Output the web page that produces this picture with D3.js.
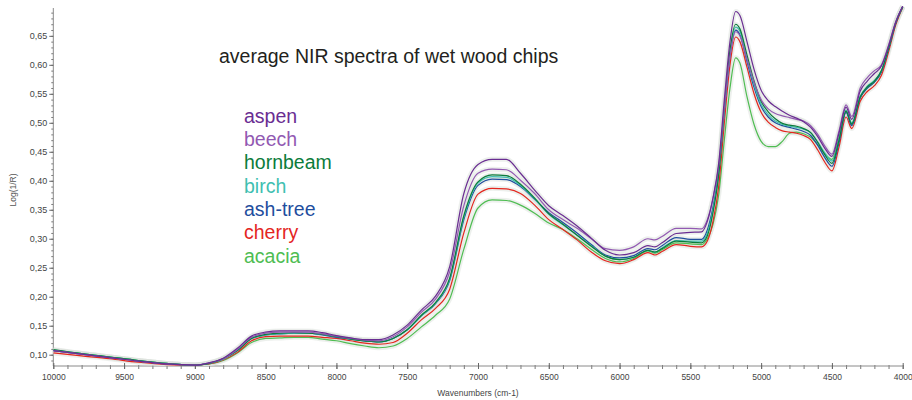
<!DOCTYPE html>
<html>
<head>
<meta charset="utf-8">
<script src="https://cdn.jsdelivr.net/npm/d3@7"></script>
<style>
  body { margin: 0; background: #fff; }
  svg { display: block; font-family: "Liberation Sans", Arial, sans-serif; }
</style>
</head>
<body>
<svg id="chart" width="912" height="400"></svg>
<script>
// wavenumbers (cm-1)
const wavenumbers = [
  10000, 9800, 9600, 9400, 9200, 9000, 8900, 8800, 8700, 8600,
  8500, 8400, 8300, 8200, 8100, 8000, 7900, 7800, 7700, 7600,
  7500, 7400, 7300, 7200, 7100, 7000, 6900, 6800, 6700, 6600,
  6500, 6400, 6300, 6200, 6100, 6000, 5900, 5800, 5750, 5700,
  5600, 5500, 5420, 5380, 5340, 5300, 5260, 5220, 5180, 5150,
  5100, 5050, 5000, 4950, 4900, 4850, 4800, 4750, 4700, 4650,
  4600, 4550, 4500, 4450, 4400, 4360, 4300, 4250, 4200, 4150,
  4100, 4050, 4000
];

const aspen = [
  0.107, 0.101, 0.095, 0.089, 0.084, 0.082, 0.086, 0.094, 0.111, 0.132,
  0.139, 0.141, 0.141, 0.141, 0.138, 0.133, 0.129, 0.126, 0.126, 0.134,
  0.151, 0.177, 0.201, 0.252, 0.378, 0.428, 0.437, 0.437, 0.413, 0.384,
  0.357, 0.340, 0.322, 0.301, 0.280, 0.272, 0.276, 0.288, 0.286, 0.293,
  0.309, 0.311, 0.312, 0.330, 0.370, 0.430, 0.540, 0.640, 0.692, 0.685,
  0.640, 0.592, 0.556, 0.538, 0.528, 0.520, 0.513, 0.508, 0.502, 0.492,
  0.476, 0.456, 0.442, 0.482, 0.527, 0.506, 0.555, 0.572, 0.585, 0.598,
  0.632, 0.673, 0.701
];
const beech = [
  0.107, 0.101, 0.095, 0.089, 0.084, 0.082, 0.086, 0.093, 0.109, 0.130,
  0.137, 0.139, 0.139, 0.139, 0.136, 0.132, 0.128, 0.125, 0.124, 0.131,
  0.148, 0.173, 0.196, 0.243, 0.357, 0.413, 0.420, 0.419, 0.401, 0.378,
  0.350, 0.333, 0.318, 0.300, 0.283, 0.280, 0.286, 0.300, 0.298, 0.304,
  0.318, 0.318, 0.317, 0.333, 0.370, 0.425, 0.525, 0.615, 0.657, 0.650,
  0.610, 0.570, 0.540, 0.524, 0.516, 0.512, 0.509, 0.506, 0.503, 0.495,
  0.480, 0.460, 0.446, 0.486, 0.531, 0.511, 0.560, 0.578, 0.590, 0.600,
  0.634, 0.674, 0.701
];
const hornbeam = [
  0.109, 0.102, 0.096, 0.090, 0.085, 0.082, 0.085, 0.093, 0.107, 0.128,
  0.135, 0.137, 0.138, 0.137, 0.135, 0.131, 0.127, 0.124, 0.122, 0.128,
  0.143, 0.168, 0.190, 0.232, 0.340, 0.398, 0.410, 0.409, 0.394, 0.370,
  0.343, 0.325, 0.306, 0.287, 0.270, 0.264, 0.268, 0.280, 0.277, 0.283,
  0.296, 0.294, 0.293, 0.305, 0.345, 0.410, 0.525, 0.625, 0.670, 0.662,
  0.617, 0.572, 0.537, 0.519, 0.507, 0.499, 0.496, 0.494, 0.490, 0.483,
  0.466, 0.445, 0.430, 0.470, 0.520, 0.498, 0.545, 0.562, 0.572, 0.590,
  0.628, 0.672, 0.700
];
const birch = [
  0.108, 0.102, 0.096, 0.090, 0.085, 0.082, 0.085, 0.092, 0.107, 0.128,
  0.134, 0.136, 0.137, 0.137, 0.135, 0.131, 0.127, 0.124, 0.122, 0.128,
  0.143, 0.167, 0.189, 0.230, 0.337, 0.396, 0.407, 0.406, 0.392, 0.369,
  0.342, 0.324, 0.306, 0.288, 0.270, 0.264, 0.268, 0.280, 0.277, 0.284,
  0.297, 0.296, 0.296, 0.310, 0.350, 0.412, 0.520, 0.620, 0.665, 0.658,
  0.611, 0.566, 0.532, 0.514, 0.503, 0.497, 0.494, 0.492, 0.489, 0.483,
  0.467, 0.448, 0.434, 0.472, 0.522, 0.500, 0.546, 0.563, 0.573, 0.590,
  0.628, 0.672, 0.700
];
const ashTree = [
  0.107, 0.101, 0.095, 0.089, 0.084, 0.082, 0.085, 0.093, 0.107, 0.128,
  0.134, 0.136, 0.137, 0.137, 0.134, 0.130, 0.127, 0.124, 0.122, 0.128,
  0.143, 0.167, 0.188, 0.228, 0.333, 0.392, 0.403, 0.402, 0.390, 0.368,
  0.345, 0.328, 0.310, 0.290, 0.272, 0.267, 0.271, 0.283, 0.281, 0.288,
  0.302, 0.299, 0.299, 0.315, 0.355, 0.415, 0.520, 0.615, 0.660, 0.652,
  0.606, 0.561, 0.528, 0.510, 0.500, 0.495, 0.492, 0.489, 0.485, 0.478,
  0.461, 0.440, 0.425, 0.466, 0.518, 0.495, 0.543, 0.560, 0.570, 0.588,
  0.627, 0.671, 0.700
];
const cherry = [
  0.103, 0.098, 0.093, 0.087, 0.083, 0.082, 0.084, 0.091, 0.104, 0.124,
  0.131, 0.132, 0.132, 0.132, 0.130, 0.128, 0.124, 0.120, 0.118, 0.121,
  0.137, 0.160, 0.180, 0.213, 0.310, 0.377, 0.387, 0.386, 0.378, 0.358,
  0.333, 0.316, 0.298, 0.277, 0.262, 0.257, 0.264, 0.276, 0.272, 0.278,
  0.290, 0.287, 0.286, 0.296, 0.330, 0.390, 0.500, 0.600, 0.648, 0.640,
  0.596, 0.550, 0.518, 0.501, 0.492, 0.486, 0.484, 0.482, 0.478, 0.471,
  0.453, 0.432, 0.417, 0.458, 0.510, 0.490, 0.537, 0.554, 0.564, 0.582,
  0.622, 0.668, 0.699
];
const acacia = [
  0.107, 0.102, 0.096, 0.090, 0.085, 0.082, 0.084, 0.090, 0.103, 0.121,
  0.128, 0.129, 0.130, 0.130, 0.127, 0.124, 0.119, 0.115, 0.112, 0.115,
  0.128, 0.148, 0.168, 0.196, 0.282, 0.353, 0.367, 0.366, 0.358, 0.344,
  0.327, 0.316, 0.300, 0.282, 0.266, 0.260, 0.266, 0.279, 0.275, 0.281,
  0.293, 0.291, 0.290, 0.300, 0.325, 0.375, 0.470, 0.560, 0.612, 0.603,
  0.545, 0.497, 0.468, 0.459, 0.459, 0.468, 0.482, 0.484, 0.481, 0.475,
  0.462, 0.446, 0.437, 0.474, 0.520, 0.497, 0.543, 0.560, 0.570, 0.588,
  0.627, 0.671, 0.700
];

const speciesNames = ["aspen", "beech", "hornbeam", "birch", "ash-tree", "cherry", "acacia"];
const speciesValues = [aspen, beech, hornbeam, birch, ashTree, cherry, acacia];
const lineColors = ["#6a2d92", "#9259b2", "#0c7c3b", "#3fbfb1", "#1f4e9e", "#e4261f", "#4fbd52"];

const xTicks = [10000, 9500, 9000, 8500, 8000, 7500, 7000, 6500, 6000, 5500, 5000, 4500, 4000];
const yTicks = [0.10, 0.15, 0.20, 0.25, 0.30, 0.35, 0.40, 0.45, 0.50, 0.55, 0.60, 0.65];

const svg = d3.select("#chart");
const plotLeft = 53.3, plotRight = 902.7, plotTop = 8, plotBottom = 366;

const x = d3.scaleLinear().domain([10000, 4000]).range([plotLeft, plotRight]);
const y = d3.scaleLinear().domain([0.0805, 0.698]).range([plotBottom, plotTop]);

// clip for the curves
svg.append("defs").append("clipPath").attr("id", "plotclip")
  .append("rect").attr("x", plotLeft).attr("y", 0)
  .attr("width", plotRight - plotLeft + 6).attr("height", plotBottom);

// axes
const fmt = d => d3.format(".2f")(d).replace(".", ",");

const yMinor = svg.append("g").attr("transform", `translate(${plotLeft},0)`)
  .call(d3.axisLeft(y).tickValues(d3.range(0.09, 0.695, 0.01)).tickSize(2).tickFormat(""));
yMinor.select(".domain").remove();
yMinor.selectAll("line").attr("stroke", "#777");

const yAxis = svg.append("g").attr("transform", `translate(${plotLeft},0)`)
  .call(d3.axisLeft(y).tickValues(yTicks).tickSize(4).tickPadding(2).tickFormat(fmt));
yAxis.select(".domain").attr("stroke", "#8a8a8a").attr("d", `M0,${plotTop}V${plotBottom}`);
yAxis.selectAll("line").attr("stroke", "#666");
yAxis.selectAll("text").attr("fill", "#444").style("font-size", "9px");

const xMinor = svg.append("g").attr("transform", `translate(0,${plotBottom})`)
  .call(d3.axisBottom(x).tickValues(d3.range(10000, 3999, -100)).tickSize(3).tickFormat(""));
xMinor.select(".domain").remove();
xMinor.selectAll("line").attr("stroke", "#777").attr("y1", -1);

const xAxis = svg.append("g").attr("transform", `translate(0,${plotBottom})`)
  .call(d3.axisBottom(x).tickValues(xTicks).tickSize(3).tickPadding(5).tickFormat(d3.format("d")));
xAxis.select(".domain").attr("stroke", "#8a8a8a").attr("d", `M${plotLeft},0H${plotRight}`);
xAxis.selectAll("line").attr("stroke", "#666").attr("y1", -3);
xAxis.selectAll("text").attr("fill", "#444").style("font-size", "8.5px");

svg.append("text")
  .attr("x", 478).attr("y", 396)
  .attr("text-anchor", "middle")
  .attr("fill", "#444").style("font-size", "8.5px")
  .text("Wavenumbers (cm-1)");

svg.append("text")
  .attr("transform", "translate(16,190) rotate(-90)")
  .attr("text-anchor", "middle")
  .attr("fill", "#555").style("font-size", "8.5px")
  .text("Log(1/R)");

// curves
const line = d3.line()
  .x((d, i) => x(wavenumbers[i]))
  .y(d => y(d))
  .curve(d3.curveMonotoneX);

const plot = svg.append("g").attr("clip-path", "url(#plotclip)");

// faint grey halo the original has round its traces
plot.selectAll(".halo")
  .data(speciesValues)
  .enter()
  .append("path")
  .attr("class", "halo")
  .attr("d", line)
  .attr("fill", "none")
  .attr("stroke", "#dfe3df")
  .attr("stroke-width", 5)
  .attr("stroke-opacity", 0.55);

// draw from the back so aspen ends on top
plot.selectAll(".spectrum")
  .data(speciesValues.map((v, i) => ({ v, i })).reverse())
  .enter()
  .append("path")
  .attr("class", "spectrum")
  .attr("d", d => line(d.v))
  .attr("fill", "none")
  .attr("stroke", d => lineColors[d.i])
  .attr("stroke-width", 1.2);

// title
svg.append("text")
  .attr("x", 219).attr("y", 63)
  .attr("fill", "#231f20")
  .style("font-size", "19.5px")
  .text("average NIR spectra of wet wood chips");

// legend
const legendBaselines = [122.7, 146, 169.3, 192.7, 216, 239.3, 263.3];
svg.selectAll(".legend")
  .data(speciesNames)
  .enter()
  .append("text")
  .attr("class", "legend")
  .attr("x", 244)
  .attr("y", (d, i) => legendBaselines[i])
  .attr("fill", (d, i) => lineColors[i])
  .style("font-size", "19.5px")
  .text(d => d);
</script>
</body>
</html>
